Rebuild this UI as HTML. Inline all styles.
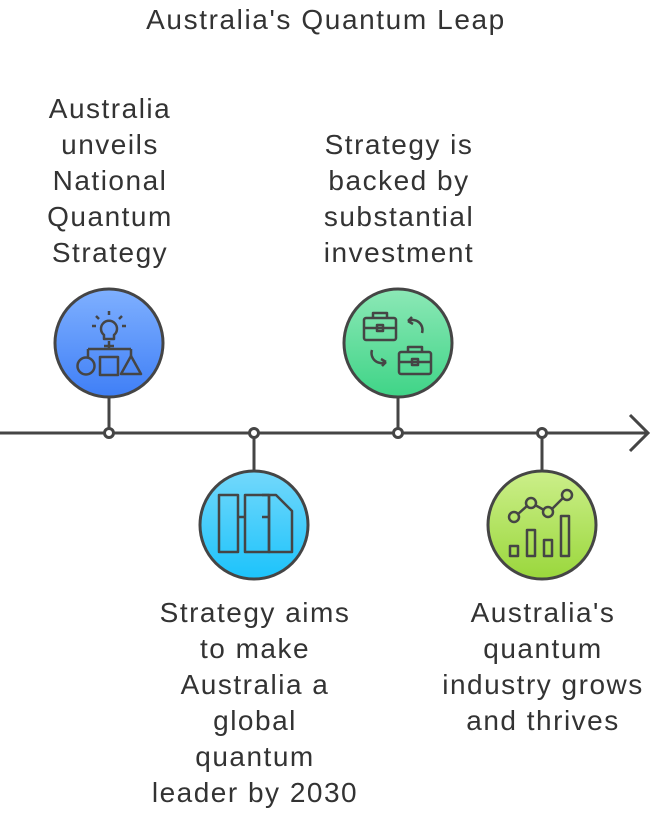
<!DOCTYPE html>
<html><head><meta charset="utf-8"><style>
html,body{margin:0;padding:0;background:#fff;}
svg{display:block}
text{font-family:"Liberation Sans",sans-serif;fill:#333;font-size:28px;letter-spacing:1.5px;text-anchor:middle}
</style></head><body>
<svg width="651" height="813" viewBox="0 0 651 813">
<defs>
<linearGradient id="g1" x1="0" y1="0" x2="0" y2="1"><stop offset="0" stop-color="#7fb0ff"/><stop offset="1" stop-color="#3f7ff6"/></linearGradient>
<linearGradient id="g2" x1="0" y1="0" x2="0" y2="1"><stop offset="0" stop-color="#73d8fb"/><stop offset="1" stop-color="#1cc3fb"/></linearGradient>
<linearGradient id="g3" x1="0" y1="0" x2="0" y2="1"><stop offset="0" stop-color="#8ce8b6"/><stop offset="1" stop-color="#3fd487"/></linearGradient>
<linearGradient id="g4" x1="0" y1="0" x2="0" y2="1"><stop offset="0" stop-color="#ccef8a"/><stop offset="1" stop-color="#9ad73c"/></linearGradient>
</defs>
<text x="326" y="29" font-size="27" style="letter-spacing:1.6px">Australia's Quantum Leap</text>
<g stroke="#454545" stroke-width="3" fill="none">
<line x1="0" y1="433" x2="648" y2="433"/>
<polyline points="630,415 648,433 630,451"/>
<line x1="109" y1="397" x2="109" y2="433"/>
<line x1="254" y1="433" x2="254" y2="471"/>
<line x1="398" y1="397" x2="398" y2="433"/>
<line x1="542" y1="433" x2="542" y2="471"/>
</g>
<g stroke="#454545" stroke-width="3" fill="#fff">
<circle cx="109" cy="433" r="4.5"/><circle cx="254" cy="433" r="4.5"/><circle cx="398" cy="433" r="4.5"/><circle cx="542" cy="433" r="4.5"/>
</g>
<g stroke="#454545" stroke-width="3">
<circle cx="109" cy="343" r="54" fill="url(#g1)"/>
<circle cx="254" cy="525" r="54" fill="url(#g2)"/>
<circle cx="398" cy="343" r="54" fill="url(#g3)"/>
<circle cx="542" cy="525" r="54" fill="url(#g4)"/>
</g>
<g stroke="#454545" stroke-width="2.5" fill="none" stroke-linejoin="round">
<path d="M104,335 a8,8 0 1 1 10,0 v4 h-10 z"/>
<line x1="109" y1="341" x2="109" y2="349"/><line x1="104" y1="346" x2="114" y2="346"/>
<line x1="88" y1="349" x2="131" y2="349"/><line x1="88" y1="349" x2="88" y2="358"/><line x1="131" y1="349" x2="131" y2="356"/>
<circle cx="86" cy="366" r="8.5"/><rect x="100" y="357" width="18" height="18"/><path d="M131,356 l10,18 h-20 z"/>
<line x1="109" y1="311" x2="109" y2="315"/><line x1="96" y1="316" x2="99" y2="319"/><line x1="122" y1="316" x2="119" y2="319"/><line x1="92" y1="326" x2="96" y2="326"/><line x1="122" y1="326" x2="126" y2="326"/>
<rect x="219" y="495" width="19" height="57"/><rect x="245" y="495" width="24" height="57"/>
<path d="M262,495 h14 l16,16 v41 h-23 v-57"/>
<line x1="238" y1="517" x2="245" y2="517"/><line x1="262" y1="517" x2="269" y2="517"/>
<rect x="364" y="318" width="32" height="22" rx="2"/><path d="M373,318 v-5 h14 v5"/><line x1="364" y1="328" x2="396" y2="328"/><rect x="377" y="325" width="6" height="6"/>
<rect x="399" y="352" width="32" height="22" rx="2"/><path d="M408,352 v-5 h14 v5"/><line x1="399" y1="362" x2="431" y2="362"/><rect x="412" y="359" width="6" height="6"/>
<path d="M422,333 a10,10 0 0 0 -14,-12 m0,0 l4,-4 m-4,4 l5,3"/>
<path d="M372,350 a10,10 0 0 0 14,12 m0,0 l-4,4 m4,-4 l-5,-3"/>
<rect x="510" y="546" width="8" height="10"/><rect x="527" y="530" width="8" height="26"/><rect x="544" y="540" width="8" height="16"/><rect x="561" y="516" width="8" height="40"/>
<circle cx="514" cy="517" r="5"/><circle cx="531" cy="503" r="5"/><circle cx="548" cy="512" r="5"/><circle cx="567" cy="495" r="5"/>
<line x1="518" y1="514" x2="527" y2="506"/><line x1="535" y1="505" x2="544" y2="510"/><line x1="552" y1="509" x2="563" y2="498"/>
</g>
<text x="110" y="118">Australia</text><text x="110" y="154">unveils</text><text x="110" y="190">National</text><text x="110" y="226">Quantum</text><text x="110" y="262">Strategy</text>
<text x="399" y="154">Strategy is</text><text x="399" y="190">backed by</text><text x="399" y="226">substantial</text><text x="399" y="262">investment</text>
<text x="255" y="622">Strategy aims</text><text x="255" y="658">to make</text><text x="255" y="694">Australia a</text><text x="255" y="730">global</text><text x="255" y="766">quantum</text><text x="255" y="802">leader by 2030</text>
<text x="543" y="622">Australia's</text><text x="543" y="658">quantum</text><text x="543" y="694">industry grows</text><text x="543" y="730">and thrives</text>
</svg>
</body></html>
